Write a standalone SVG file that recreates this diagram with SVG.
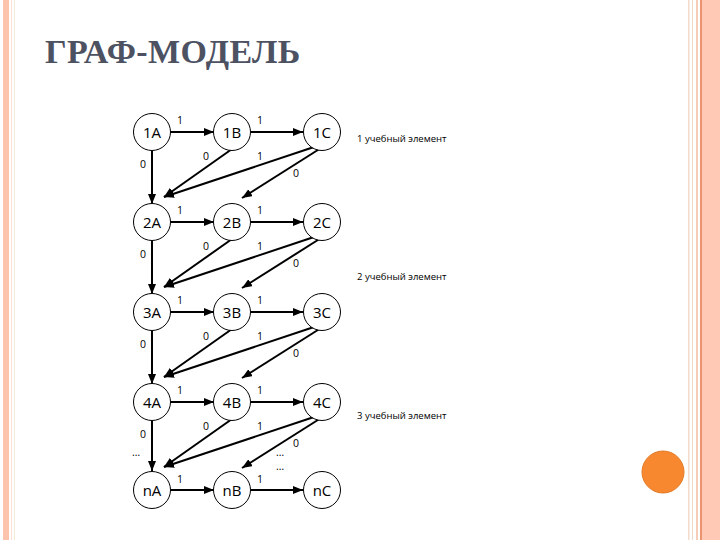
<svg xmlns="http://www.w3.org/2000/svg" width="720" height="540" viewBox="0 0 720 540">
<style>
.n circle{fill:#fff;stroke:#000;stroke-width:1}
.n text{font-family:"Open Sans","Liberation Sans",sans-serif;font-size:15px;fill:#000;text-anchor:middle;dominant-baseline:central}
.e line{stroke:#000;stroke-width:2;marker-end:url(#ah)}
.lb{font-family:"Open Sans","Liberation Sans",sans-serif;font-size:10.5px;fill:#000;text-anchor:middle;dominant-baseline:central}
.note{font-family:"Open Sans","Liberation Sans",sans-serif;font-size:9.5px;fill:#000}
</style>
<defs>
<marker id="ah" markerUnits="userSpaceOnUse" markerWidth="10" markerHeight="8" refX="10" refY="4" orient="auto">
<path d="M0,0 L10,4 L0,8 z" fill="#000"/>
</marker>
</defs>
<rect width="720" height="540" fill="#fff"/>
<g id="border">
<rect x="3" y="0" width="6" height="540" fill="#fcc3ad"/>
<rect x="11" y="0" width="1" height="540" fill="#fbe0d4"/>
<rect x="14" y="0" width="1" height="540" fill="#f4ecd8"/>
<rect x="688" y="0" width="1.5" height="540" fill="#f3dccb"/>
<rect x="692" y="0" width="1" height="540" fill="#f0d8c8"/>
<rect x="696" y="0" width="2" height="540" fill="#f6cdb8"/>
<rect x="700" y="0" width="2" height="540" fill="#e9946e"/>
<rect x="702" y="0" width="18" height="540" fill="#ffc9b6"/>
</g>
<text x="45" y="63" font-family="'Liberation Serif',serif" font-weight="bold" font-size="34" letter-spacing="0.4" fill="#4d5263">ГРАФ-МОДЕЛЬ</text>
<circle id="dot" cx="663" cy="472" r="21" fill="#f7882f" stroke="#e27a25" stroke-width="1"/>
<g class="e" id="connectors">
<line x1="170" y1="132" x2="214" y2="132"/>
<line x1="251" y1="132" x2="303" y2="132"/>
<line x1="152" y1="151" x2="152" y2="204"/>
<line x1="232" y1="149" x2="164" y2="197"/>
<line x1="314" y1="147" x2="164" y2="197"/>
<line x1="321" y1="148" x2="242" y2="198"/>
<line x1="170" y1="222" x2="214" y2="222"/>
<line x1="251" y1="222" x2="303" y2="222"/>
<line x1="152" y1="241" x2="152" y2="294"/>
<line x1="232" y1="239" x2="164" y2="287"/>
<line x1="314" y1="237" x2="164" y2="287"/>
<line x1="321" y1="238" x2="242" y2="288"/>
<line x1="170" y1="312" x2="214" y2="312"/>
<line x1="251" y1="312" x2="303" y2="312"/>
<line x1="152" y1="331" x2="152" y2="384"/>
<line x1="232" y1="329" x2="164" y2="377"/>
<line x1="314" y1="327" x2="164" y2="377"/>
<line x1="321" y1="328" x2="242" y2="378"/>
<line x1="170" y1="402" x2="214" y2="402"/>
<line x1="251" y1="402" x2="303" y2="402"/>
<line x1="152" y1="421" x2="152" y2="471"/>
<line x1="232" y1="419" x2="164" y2="467"/>
<line x1="314" y1="417" x2="164" y2="467"/>
<line x1="321" y1="418" x2="242" y2="468"/>
<line x1="170" y1="490" x2="214" y2="490"/>
<line x1="251" y1="490" x2="303" y2="490"/>
</g>
<g id="labels">
<text class="lb" x="180" y="120">1</text><text class="lb" x="260" y="120">1</text>
<text class="lb" x="143" y="164">0</text><text class="lb" x="206" y="156">0</text>
<text class="lb" x="260" y="156">1</text><text class="lb" x="296" y="173">0</text>
<text class="lb" x="180" y="210">1</text><text class="lb" x="260" y="210">1</text>
<text class="lb" x="143" y="254">0</text><text class="lb" x="206" y="246">0</text>
<text class="lb" x="260" y="246">1</text><text class="lb" x="296" y="263">0</text>
<text class="lb" x="180" y="300">1</text><text class="lb" x="260" y="300">1</text>
<text class="lb" x="143" y="344">0</text><text class="lb" x="206" y="336">0</text>
<text class="lb" x="260" y="336">1</text><text class="lb" x="296" y="353">0</text>
<text class="lb" x="180" y="390">1</text><text class="lb" x="260" y="390">1</text>
<text class="lb" x="143" y="434">0</text><text class="lb" x="206" y="426">0</text>
<text class="lb" x="260" y="426">1</text><text class="lb" x="296" y="443">0</text>
<text class="lb" x="180" y="479">1</text><text class="lb" x="260" y="479">1</text>
<text class="lb" x="136" y="452">…</text>
<text class="lb" x="280" y="452">…</text>
<text class="lb" x="280" y="466">…</text>
<text class="note" x="357" y="142">1 учебный элемент</text>
<text class="note" x="357" y="280">2 учебный элемент</text>
<text class="note" x="357" y="419">3 учебный элемент</text>
</g>
<g class="n" id="n1A"><circle cx="152" cy="132" r="18.5"/><text x="152" y="132">1A</text></g>
<g class="n" id="n1B"><circle cx="232" cy="132" r="18.5"/><text x="232" y="132">1B</text></g>
<g class="n" id="n1C"><circle cx="322" cy="132" r="18.5"/><text x="322" y="132">1C</text></g>
<g class="n" id="n2A"><circle cx="152" cy="222" r="18.5"/><text x="152" y="222">2A</text></g>
<g class="n" id="n2B"><circle cx="232" cy="222" r="18.5"/><text x="232" y="222">2B</text></g>
<g class="n" id="n2C"><circle cx="322" cy="222" r="18.5"/><text x="322" y="222">2C</text></g>
<g class="n" id="n3A"><circle cx="152" cy="312" r="18.5"/><text x="152" y="312">3A</text></g>
<g class="n" id="n3B"><circle cx="232" cy="312" r="18.5"/><text x="232" y="312">3B</text></g>
<g class="n" id="n3C"><circle cx="322" cy="312" r="18.5"/><text x="322" y="312">3C</text></g>
<g class="n" id="n4A"><circle cx="152" cy="402" r="18.5"/><text x="152" y="402">4A</text></g>
<g class="n" id="n4B"><circle cx="232" cy="402" r="18.5"/><text x="232" y="402">4B</text></g>
<g class="n" id="n4C"><circle cx="322" cy="402" r="18.5"/><text x="322" y="402">4C</text></g>
<g class="n" id="nnA"><circle cx="152" cy="490" r="18.5"/><text x="152" y="490">nA</text></g>
<g class="n" id="nnB"><circle cx="232" cy="490" r="18.5"/><text x="232" y="490">nB</text></g>
<g class="n" id="nnC"><circle cx="322" cy="490" r="18.5"/><text x="322" y="490">nC</text></g>
</svg>
